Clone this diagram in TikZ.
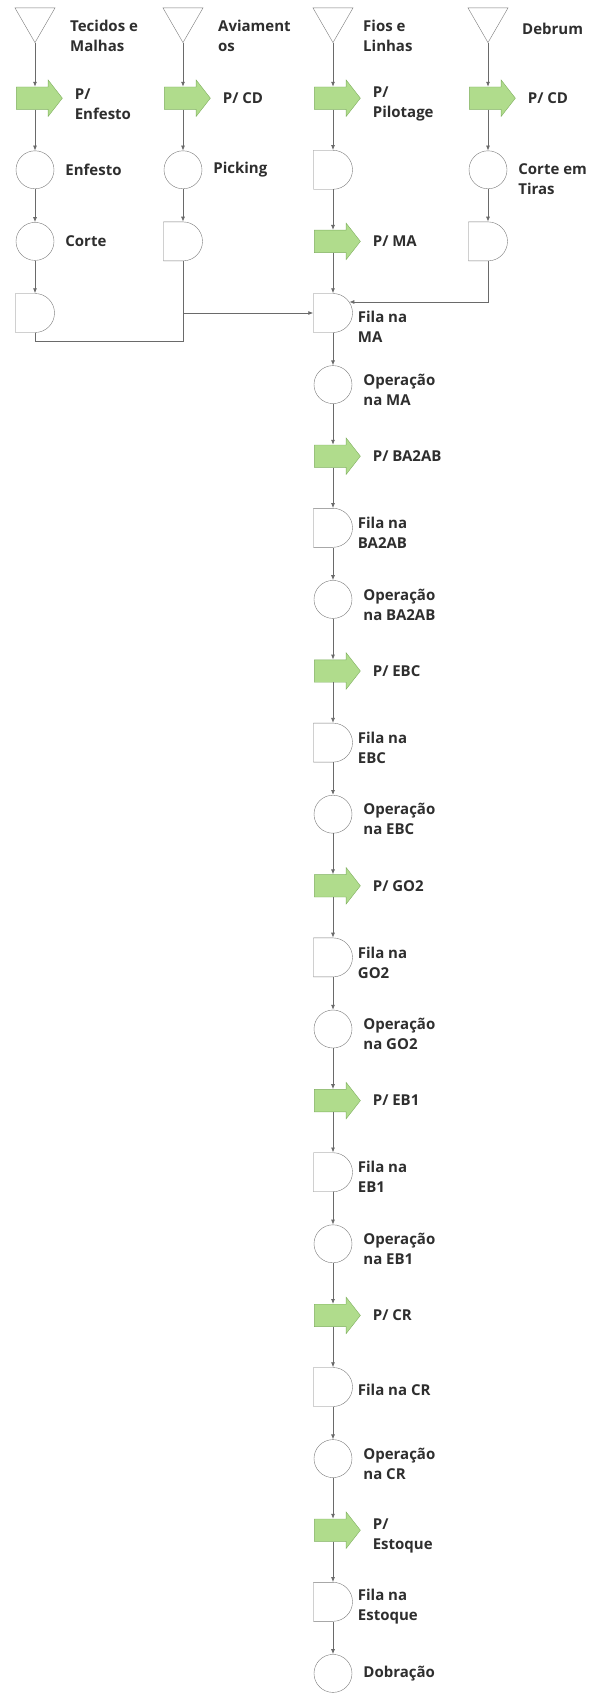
\documentclass[tikz,border=0pt]{standalone}
\usepackage{fontspec}
\setmainfont{Open Sans}
\usepackage{tikz}
\usetikzlibrary{shapes.geometric, shapes.arrows, shapes.misc, arrows.meta, positioning}

\definecolor{linegray}{HTML}{6A6A6A}
\definecolor{shapegray}{HTML}{7A7A7A}
\definecolor{arrowfill}{HTML}{B0DC8C}
\definecolor{arrowline}{HTML}{7FAF5F}
\definecolor{textdark}{HTML}{2E2E2E}

\tikzset{
    estoque/.style={draw=shapegray, regular polygon, regular polygon sides=3, shape border rotate=180, minimum size=46.2pt, inner sep=0pt},
    transp/.style={draw=arrowline, fill=arrowfill, single arrow, single arrow head extend=7pt, single arrow tip angle=104, minimum height=46pt, inner xsep=0pt, inner ysep=11pt},
    oper/.style={draw=shapegray, circle, minimum size=38pt, inner sep=0pt},
    fila/.style={draw=shapegray, rounded rectangle, rounded rectangle left arc=none, minimum width=38pt, minimum height=39pt, inner sep=0pt},
    rotulo/.style={font=\fontsize{15}{20}\selectfont\bfseries, text=textdark, align=left, inner sep=0pt, anchor=west},
    fluxo/.style={draw=linegray, line width=0.8pt, -{Latex[length=5pt,width=4pt]}},
    liga/.style={draw=linegray, line width=0.8pt}
}

\begin{document}
\begin{tikzpicture}[x=1pt, y=1pt]
    \useasboundingbox (0,26.6) rectangle (590,-1666.4);
    % entradas
    \node[estoque] (t1) at (35,7.1) {};
    \node[estoque] (t2) at (183,7.1) {};
    \node[estoque] (t3) at (333,7.1) {};
    \node[estoque] (t4) at (488,7.1) {};
    \node[rotulo, right=35pt of t1.center, yshift=-16pt] (lt1) {Tecidos e\\Malhas};
    \node[rotulo, right=35pt of t2.center, yshift=-16pt] (lt2) {Aviament\\os};
    \node[rotulo, right=30pt of t3.center, yshift=-16pt] (lt3) {Fios e\\Linhas};
    \node[rotulo, right=34pt of t4.center, yshift=-9pt] (lt4) {Debrum};
    % transportes iniciais
    \node[transp] (a1) at (35,-71.6) {};
    \node[transp] (a2) at (183,-71.6) {};
    \node[transp] (a3) at (333,-71.6) {};
    \node[transp] (a4) at (488,-71.6) {};
    \node[rotulo, right=12pt of a1, yshift=-6pt] (la1) {P/\\Enfesto};
    \node[rotulo, right=12pt of a2] (la2) {P/ CD};
    \node[rotulo, right=12pt of a3, yshift=-6pt] (la3) {P/\\Pilotage};
    \node[rotulo, right=12pt of a4] (la4) {P/ CD};
    % segunda linha
    \node[oper] (c1) at (35,-143.2) {};
    \node[oper] (c2) at (183,-143.2) {};
    \node[fila] (d3) at (333,-143.2) {};
    \node[oper] (c4) at (488,-143.2) {};
    \node[rotulo, right=11pt of c1] (lc1) {Enfesto};
    \node[rotulo, right=11pt of c2] (lc2) {Picking};
    \node[rotulo, right=11pt of c4, yshift=-9pt] (lc4) {Corte em\\Tiras};
    % terceira linha
    \node[oper] (e1) at (35,-214.8) {};
    \node[fila] (d2) at (183,-214.8) {};
    \node[transp] (b3) at (333,-214.8) {};
    \node[fila] (d4) at (488,-214.8) {};
    \node[rotulo, right=11pt of e1] (le1) {Corte};
    \node[rotulo, right=12pt of b3] (lb3) {P/ MA};
    \node[fila] (d1) at (35,-286.4) {};
    % coluna principal
    \foreach \r/\tipo/\gap/\dy/\txt in {
        4/fila/5/-14/{Fila na\\MA}, 5/oper/11/-5/{Operação\\na MA}, 6/transp/12/0/{P/ BA2AB},
        7/fila/5/-5/{Fila na\\BA2AB}, 8/oper/11/-5/{Operação\\na BA2AB}, 9/transp/12/0/{P/ EBC},
        10/fila/5/-5/{Fila na\\EBC}, 11/oper/11/-5/{Operação\\na EBC}, 12/transp/12/0/{P/ GO2},
        13/fila/5/-5/{Fila na\\GO2}, 14/oper/11/-5/{Operação\\na GO2}, 15/transp/12/0/{P/ EB1},
        16/fila/5/-5/{Fila na\\EB1}, 17/oper/11/-5/{Operação\\na EB1}, 18/transp/12/0/{P/ CR},
        19/fila/5/-3/{Fila na CR}, 20/oper/11/-5/{Operação\\na CR}, 21/transp/12/-6/{P/\\Estoque},
        22/fila/5/-5/{Fila na\\Estoque}, 23/oper/11/0/{Dobração}} {
        \node[\tipo] (m\r) at (333,-71.6*\r) {};
        \node[rotulo, right=\gap pt of m\r, yshift=\dy pt] (l\r) {\txt};
    }
    \foreach \r [evaluate=\r as \p using int(\r-1)] in {5,...,23} {
        \draw[fluxo] (m\p) -- (m\r);
    }
    % ligacoes das colunas
    \draw[fluxo] (t1) -- (a1);
    \draw[fluxo] (a1) -- (c1);
    \draw[fluxo] (c1) -- (e1);
    \draw[fluxo] (e1) -- (d1);
    \draw[fluxo] (t2) -- (a2);
    \draw[fluxo] (a2) -- (c2);
    \draw[fluxo] (c2) -- (d2);
    \draw[fluxo] (t3) -- (a3);
    \draw[fluxo] (a3) -- (d3);
    \draw[fluxo] (d3) -- (b3);
    \draw[fluxo] (b3) -- (m4);
    \draw[fluxo] (t4) -- (a4);
    \draw[fluxo] (a4) -- (c4);
    \draw[fluxo] (c4) -- (d4);
    \coordinate (jn) at (d2 |- m4);
    \draw[liga] (d1.south) -- ++(0,-9) -| (jn);
    \draw[fluxo] (d2) |- (m4);
    \draw[fluxo] (d4) |- (m4.34);
\end{tikzpicture}
\end{document}
